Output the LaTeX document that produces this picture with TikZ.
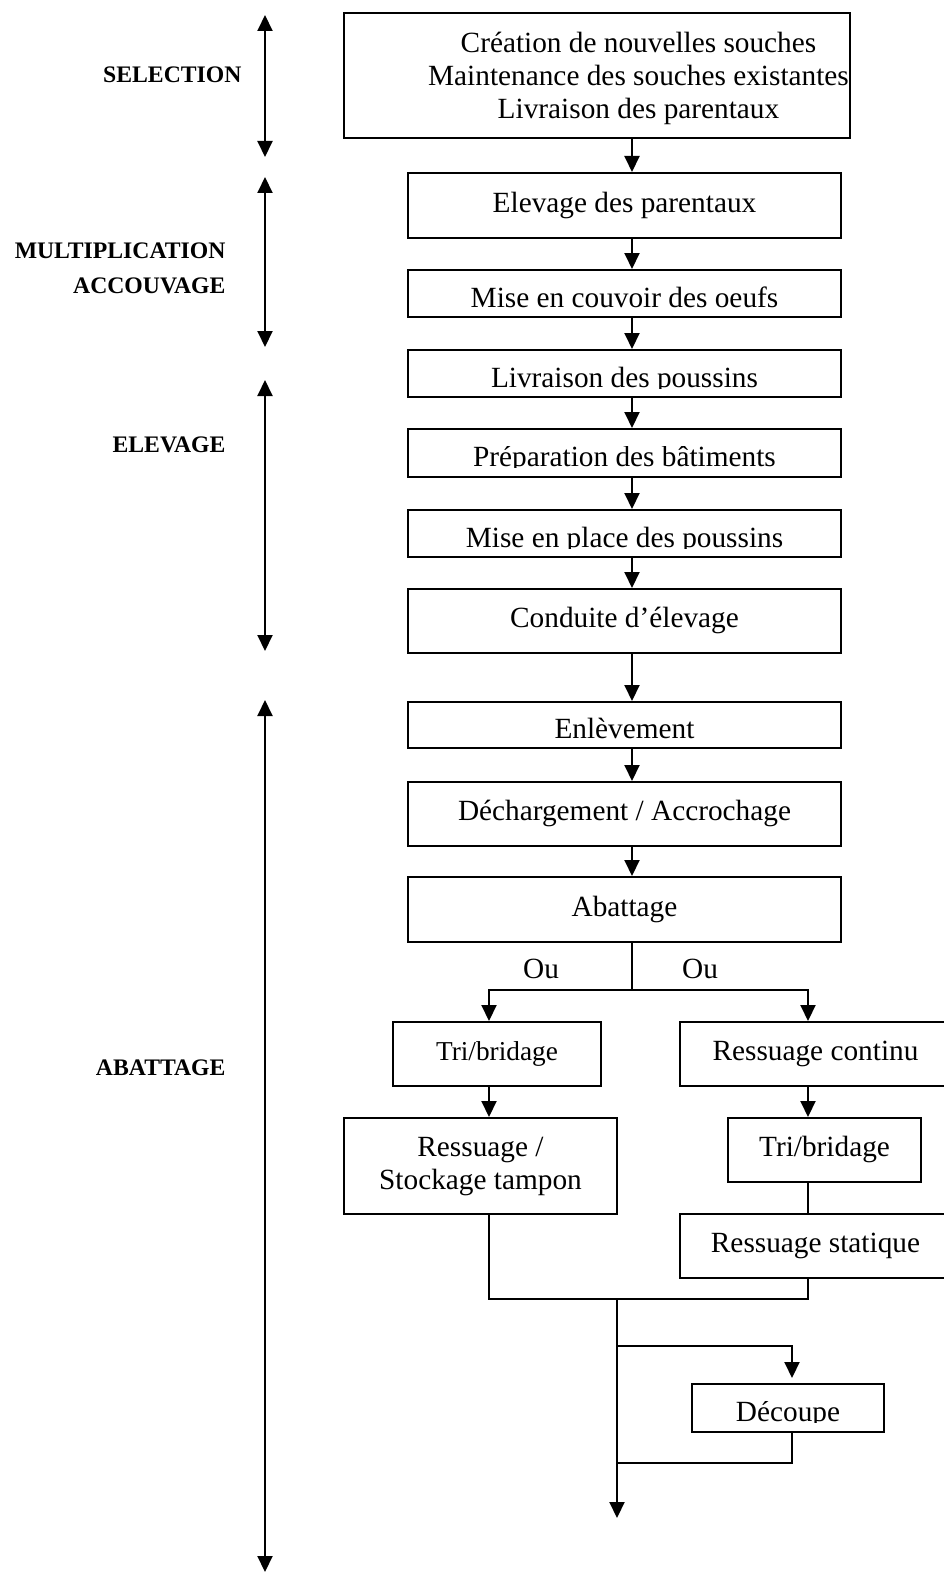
\documentclass[tikz,border=0pt]{standalone}
\usepackage{fontspec}
\setmainfont{Liberation Serif}
\usepackage{trimclip}
\usetikzlibrary{arrows.meta}
\newcommand{\rogne}[1]{\clipbox{0pt 5pt 0pt 0pt}{#1}}

\begin{document}
\begin{tikzpicture}[x=1pt,y=-1pt,
	boite/.style={draw, line width=2pt, inner sep=0pt, font=\fontsize{29.3}{33}\selectfont, text height=19pt, text depth=6pt},
	basse/.style={boite, text height=33pt},
	bloc/.style={draw, line width=2pt, inner sep=0pt, align=center, font=\fontsize{29.3}{33}\selectfont},
	phase/.style={anchor=base east, font=\fontsize{23.7}{28}\selectfont\bfseries},
	fl/.style={line width=2pt, -{Triangle[length=16pt,width=15pt]}},
	dfl/.style={line width=2pt, {Triangle[length=16pt,width=15pt]}-{Triangle[length=16pt,width=15pt]}},
	lien/.style={line width=2pt}]
	\useasboundingbox (0,0) rectangle (944,1573);

	% phases a gauche
	\node[phase] (selection) at (245,83) {SELECTION};
	\node[phase] (multi) at (229,258) {MULTIPLICATION};
	\node[phase] (accouv) at (229,293) {ACCOUVAGE};
	\node[phase] (elevage) at (229,452) {ELEVAGE};
	\node[phase] (abattage) at (229,1075) {ABATTAGE};
	\foreach \n/\h/\b in {s1/15/157, s2/177/347, s3/380/651, s4/700/1572} {
	  \coordinate (\n h) at (265,\h);
	  \coordinate (\n b) at (265,\b);
	  \draw[dfl] (\n h) -- (\n b);
	}

	% colonne principale
	\node[bloc, minimum width=506pt, minimum height=125pt] (sel) at (597,75.5)
	  {\hspace*{83pt}\raisebox{-3pt}[\height][\depth]{\begin{tabular}{@{}c@{}}Création de nouvelles souches\\Maintenance des souches existantes\\Livraison des parentaux\end{tabular}}};
	\node[boite, minimum width=433pt, minimum height=65pt] (elev) at (624.5,205.5) {Elevage des parentaux};
	\node[basse, minimum width=433pt, minimum height=47pt] (couv) at (624.5,293.5) {Mise en couvoir des oeufs};
	\node[basse, minimum width=433pt, minimum height=47pt] (livr) at (624.5,373.5) {\rogne{Livraison des poussins}};
	\node[basse, minimum width=433pt, minimum height=48pt] (prep) at (624.5,453) {\rogne{Préparation des bâtiments}};
	\node[basse, minimum width=433pt, minimum height=47pt] (place) at (624.5,533.5) {\rogne{Mise en place des poussins}};
	\node[boite, minimum width=433pt, minimum height=64pt] (cond) at (624.5,621) {Conduite d’élevage};
	\node[basse, minimum width=433pt, minimum height=46pt] (enl) at (624.5,725) {Enlèvement};
	\node[boite, minimum width=433pt, minimum height=64pt] (dech) at (624.5,814) {Déchargement / Accrochage};
	\node[boite, minimum width=433pt, minimum height=65pt] (abat) at (624.5,909.5) {Abattage};

	\coordinate (axe) at (632,0);
	\foreach \a/\b in {sel/elev, elev/couv, couv/livr, livr/prep, prep/place, place/cond, cond/enl, enl/dech, dech/abat}
	  \draw[fl] (\a.south -| axe) -- (\b.north -| axe);

	% les deux voies
	\node[font=\fontsize{29.3}{33}\selectfont, anchor=base] (ou1) at (541,978) {Ou};
	\node[font=\fontsize{29.3}{33}\selectfont, anchor=base] (ou2) at (700,978) {Ou};
	\node[boite, font=\fontsize{27.3}{33}\selectfont, minimum width=208pt, minimum height=64pt] (tri1) at (497,1054) {Tri/bridage};
	\node[bloc, minimum width=273pt, minimum height=96pt] (stock) at (480.5,1166) {Ressuage /\\Stockage tampon};
	\node[boite, minimum width=271pt, minimum height=64pt] (cont) at (815.5,1054) {Ressuage continu};
	\node[boite, minimum width=193pt, minimum height=64pt] (tri2) at (824.5,1150) {Tri/bridage};
	\node[boite, minimum width=271pt, minimum height=64pt] (stat) at (815.5,1246) {Ressuage statique};
	\node[basse, minimum width=192pt, minimum height=48pt] (dec) at (788,1408) {\rogne{Découpe}};

	\coordinate (gx) at (489,0);
	\coordinate (dx) at (808,0);
	\coordinate (dcx) at (792,0);
	\coordinate (fourche) at (632,990);
	\coordinate (jonc) at (617,1299);
	\coordinate (b1) at (617,1346);
	\coordinate (b2) at (617,1463);
	\coordinate (fin) at (617,1518);

	\draw[lien] (abat.south -| axe) -- (fourche);
	\draw[fl] (fourche) -| (tri1.north -| gx);
	\draw[fl] (fourche) -| (cont.north -| dx);
	\draw[fl] (tri1.south -| gx) -- (stock.north -| gx);
	\draw[fl] (cont.south -| dx) -- (tri2.north -| dx);
	\draw[lien] (tri2.south -| dx) -- (stat.north -| dx);
	\draw[lien] (stock.south -| gx) |- (jonc) -| (stat.south -| dx);
	\draw[fl] (jonc) -- (fin);
	\draw[fl, shorten >=5pt] (b1) -| (dec.north -| dcx);
	\draw[lien] (dec.south -| dcx) |- (b2);
\end{tikzpicture}
\end{document}
